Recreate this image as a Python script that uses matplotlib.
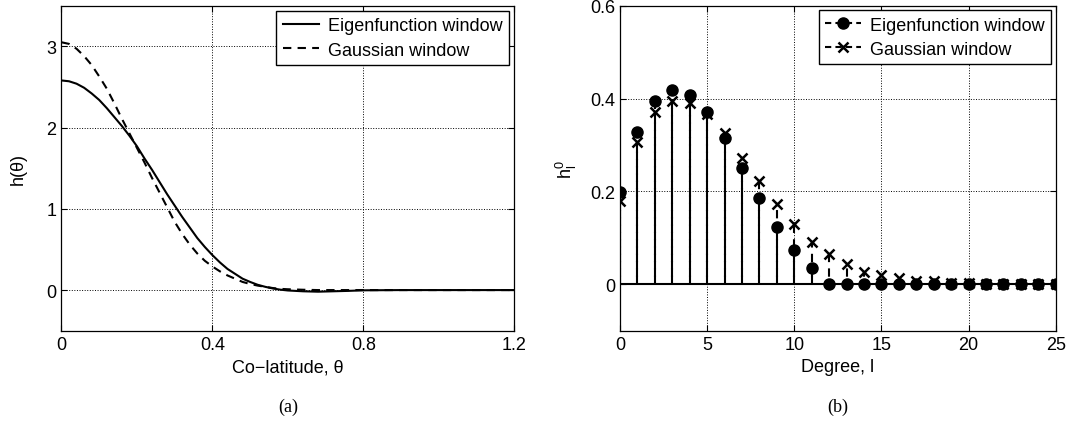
import numpy as np
import matplotlib
matplotlib.use('Agg')
import matplotlib.pyplot as plt
from matplotlib.lines import Line2D

plt.rcParams['font.family'] = ['Liberation Sans', 'DejaVu Sans']
plt.rcParams['mathtext.fontset'] = 'custom'
plt.rcParams['mathtext.rm'] = 'Liberation Sans'

# (a) window in space domain
theta = [0.00, 0.02, 0.04, 0.06, 0.08, 0.10, 0.12, 0.14, 0.16, 0.18, 0.20,
         0.22, 0.24, 0.26, 0.28, 0.30, 0.32, 0.34, 0.36, 0.38, 0.40, 0.42,
         0.44, 0.46, 0.48, 0.50, 0.52, 0.54, 0.56, 0.58, 0.60, 0.64, 0.68,
         0.72, 0.76, 0.80, 0.90, 1.00, 1.20]
h_eigen = [2.58, 2.57, 2.54, 2.49, 2.42, 2.34, 2.24, 2.13, 2.02, 1.90, 1.77,
           1.62, 1.48, 1.33, 1.18, 1.04, 0.90, 0.77, 0.64, 0.53, 0.43, 0.34,
           0.26, 0.20, 0.14, 0.10, 0.065, 0.04, 0.02, 0.005, -0.005, -0.015, -0.02,
           -0.015, -0.01, -0.003, 0.0, 0.0, 0.0]
h_gauss = [3.05, 3.03, 2.97, 2.88, 2.77, 2.63, 2.48, 2.30, 2.11, 1.93, 1.75,
           1.57, 1.38, 1.20, 1.02, 0.84, 0.69, 0.56, 0.45, 0.36, 0.29, 0.23,
           0.18, 0.14, 0.10, 0.075, 0.055, 0.04, 0.025, 0.015, 0.01, 0.004, 0.0,
           0.0, 0.0, 0.0, 0.0, 0.0, 0.0]

# (b) spherical harmonic coefficients
degree = np.arange(26)
hl_eigen = [0.198, 0.329, 0.395, 0.418, 0.407, 0.370, 0.315, 0.250, 0.185,
            0.124, 0.074, 0.036, 0, 0, 0, 0, 0, 0, 0, 0, 0, 0, 0, 0, 0, 0]
hl_gauss = [0.180, 0.307, 0.370, 0.395, 0.391, 0.366, 0.325, 0.273, 0.222,
            0.173, 0.129, 0.092, 0.065, 0.044, 0.027, 0.020, 0.013, 0.008,
            0.006, 0.003, 0.002, 0.001, 0, 0, 0, 0]

fig = plt.figure(figsize=(10.67, 4.27), dpi=100)
ax1 = fig.add_axes([0.0576, 0.2232, 0.4244, 0.7611])
ax2 = fig.add_axes([0.5811, 0.2232, 0.4083, 0.7611])

ax1.plot(theta, h_eigen, 'k-', lw=1.5, label='Eigenfunction window')
ax1.plot(theta, h_gauss, 'k--', lw=1.5, dashes=(4, 3), label='Gaussian window')
ax1.set_xlim(0, 1.2)
ax1.set_ylim(-0.5, 3.5)
ax1.set_xticks([0, 0.4, 0.8, 1.2])
ax1.set_xticklabels(['0', '0.4', '0.8', '1.2'])
ax1.set_yticks([0, 1, 2, 3])
ax1.set_xlabel('Co\u2212latitude, \u03b8', fontsize=13)
ax1.set_ylabel('h(\u03b8)', fontsize=13, labelpad=14)
ax1.legend(loc='upper right', fontsize=13, fancybox=False, edgecolor='k',
           framealpha=1, borderaxespad=0.3, handlelength=2.0,
           borderpad=0.35, labelspacing=0.4, handletextpad=0.5)

# gaussian first, eigenfunction circles on top
sg = ax2.stem(degree, hl_gauss, linefmt='k--', markerfmt='kx', basefmt=' ')
sg.markerline.set_markersize(7)
sg.markerline.set_markeredgewidth(1.8)
sg.stemlines.set_linestyle((3.5, (4, 3)))
sg.stemlines.set_linewidth(1.5)
se = ax2.stem(degree, hl_eigen, linefmt='k--', markerfmt='ko', basefmt=' ')
se.markerline.set_markersize(8)
se.stemlines.set_linestyle((0, (4, 3)))
se.stemlines.set_linewidth(1.5)
ax2.axhline(0, color='k', lw=1.5, zorder=1)
ax2.set_xlim(0, 25)
ax2.set_ylim(-0.1, 0.6)
ax2.set_xticks([0, 5, 10, 15, 20, 25])
ax2.set_yticks([0, 0.2, 0.4, 0.6])
ax2.set_yticklabels(['0', '0.2', '0.4', '0.6'])
ax2.set_xlabel('Degree, l', fontsize=13)
ax2.set_ylabel(r'h$_\mathregular{l}^\mathregular{0}$', fontsize=13, labelpad=8)
handles = [Line2D([], [], color='k', ls='--', dashes=(3, 2), lw=1.5, marker='o', ms=8),
           Line2D([], [], color='k', ls='--', dashes=(3, 2), lw=1.5, marker='x', ms=7, mew=1.8)]
ax2.legend(handles, ['Eigenfunction window', 'Gaussian window'], loc='upper right',
           fontsize=13, fancybox=False, edgecolor='k', framealpha=1, numpoints=1,
           borderaxespad=0.25, handlelength=2.0, borderpad=0.35,
           labelspacing=0.4, handletextpad=0.5)

for ax in (ax1, ax2):
    ax.grid(True, color='k', ls=':', lw=0.7)
    ax.tick_params(direction='in', top=True, right=True, labelsize=13, length=4)
    for sp in ax.spines.values():
        sp.set_linewidth(0.9)

fig.text(0.0576 + 0.4244 / 2, 0.035, '(a)', ha='center', fontsize=13,
         family=['Liberation Serif', 'DejaVu Serif'])
fig.text(0.5811 + 0.4083 / 2, 0.035, '(b)', ha='center', fontsize=13,
         family=['Liberation Serif', 'DejaVu Serif'])

fig.savefig('out.png', dpi=100)
